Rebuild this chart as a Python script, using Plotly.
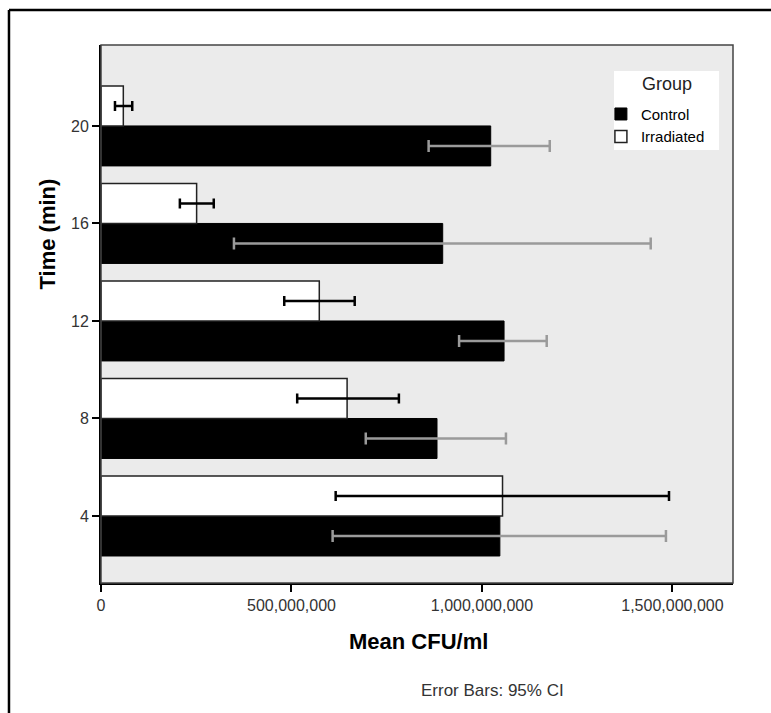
import plotly.graph_objects as go

# Data
times = ["4", "8", "12", "16", "20"]
control_mean = [1.047e9, 0.882e9, 1.058e9, 0.897e9, 1.023e9]
control_lo = [0.608e9, 0.695e9, 0.940e9, 0.349e9, 0.860e9]
control_hi = [1.483e9, 1.063e9, 1.170e9, 1.443e9, 1.178e9]
irr_mean = [1.054e9, 0.646e9, 0.573e9, 0.251e9, 0.0586e9]
irr_lo = [0.616e9, 0.515e9, 0.481e9, 0.207e9, 0.0367e9]
irr_hi = [1.491e9, 0.782e9, 0.666e9, 0.296e9, 0.082e9]
x_ticks = [0, 500000000, 1000000000, 1500000000]
x_tick_labels = ["0", "500,000,000", "1,000,000,000", "1,500,000,000"]

FONT = "Arial, Liberation Sans, sans-serif"

fig = go.Figure()
fig.add_trace(go.Bar(
    name="Control", y=times, x=control_mean, orientation="h",
    marker=dict(color="black", line=dict(color="black", width=1)),
    error_x=dict(type="data", symmetric=False,
                 array=[h - m for h, m in zip(control_hi, control_mean)],
                 arrayminus=[m - l for m, l in zip(control_mean, control_lo)],
                 color="#9a9a9a", thickness=2.5, width=6),
))
fig.add_trace(go.Bar(
    name="Irradiated", y=times, x=irr_mean, orientation="h",
    marker=dict(color="white", line=dict(color="#222222", width=1.5)),
    error_x=dict(type="data", symmetric=False,
                 array=[h - m for h, m in zip(irr_hi, irr_mean)],
                 arrayminus=[m - l for m, l in zip(irr_mean, irr_lo)],
                 color="black", thickness=2.5, width=5),
))

fig.update_layout(
    width=771, height=713,
    margin=dict(l=101, r=38, t=45, b=130),
    paper_bgcolor="white", plot_bgcolor="#ebebeb",
    barmode="group", bargap=0.18, bargroupgap=0,
    font=dict(family=FONT, color="#333333", size=16),
    showlegend=True,
    legend=dict(
        x=0.791, y=0.902, xanchor="left", yanchor="top",
        bgcolor="rgba(0,0,0,0)", borderwidth=0,
        font=dict(family=FONT, size=15, color="black"),
        tracegroupgap=0,
    ),
    xaxis=dict(
        range=[0, 1.659e9], tickvals=x_ticks, ticktext=x_tick_labels,
        showgrid=False, zeroline=False,
        showline=True, linecolor="black", linewidth=2,
        ticks="outside", ticklen=7, tickcolor="black", tickwidth=1.5,
        tickfont=dict(family=FONT, size=16, color="#333333"),
    ),
    yaxis=dict(
        type="category", categoryorder="array", categoryarray=times,
        range=[-0.687, 4.83],
        showgrid=False, zeroline=False,
        showline=True, linecolor="black", linewidth=2,
        ticks="outside", ticklen=7, tickcolor="black", tickwidth=1.5,
        tickfont=dict(family=FONT, size=16, color="#333333"),
    ),
    shapes=[
        dict(type="rect", xref="paper", yref="paper", x0=0, y0=0, x1=1, y1=1,
             line=dict(color="#444444", width=1.5), layer="above"),
        dict(type="rect", xref="paper", yref="paper",
             x0=0.8117, y0=0.8048, x1=0.978, y1=0.9517,
             fillcolor="white", line=dict(width=0), layer="above"),
        dict(type="line", xref="paper", yref="paper",
             x0=-0.1456, y0=1.065, x1=1.1, y1=1.065,
             line=dict(color="black", width=2.5)),
        dict(type="line", xref="paper", yref="paper",
             x0=-0.1456, y0=1.065, x1=-0.1456, y1=-0.3,
             line=dict(color="black", width=2.5)),
    ],
    annotations=[
        dict(text="Group", xref="paper", yref="paper",
             x=0.8948, y=0.9275, xanchor="center", yanchor="middle",
             showarrow=False, font=dict(family=FONT, size=18, color="#222222")),
        dict(text="<b>Mean CFU/ml</b>", xref="paper", yref="paper",
             x=0.5016, y=-0.108, xanchor="center", yanchor="middle",
             showarrow=False, font=dict(family=FONT, size=22, color="black")),
        dict(text="<b>Time (min)</b>", xref="paper", yref="paper",
             x=-0.0839, y=0.6496, xanchor="center", yanchor="middle",
             textangle=-90, showarrow=False,
             font=dict(family=FONT, size=22, color="black")),
        dict(text="Error Bars: 95% CI", xref="paper", yref="paper",
             x=0.620, y=-0.199, xanchor="center", yanchor="middle",
             showarrow=False, font=dict(family=FONT, size=17, color="#333333")),
    ],
)

fig.write_html("out.html", config={"displayModeBar": False},
               post_script="document.body.style.margin='0px';document.body.style.overflow='hidden';")
